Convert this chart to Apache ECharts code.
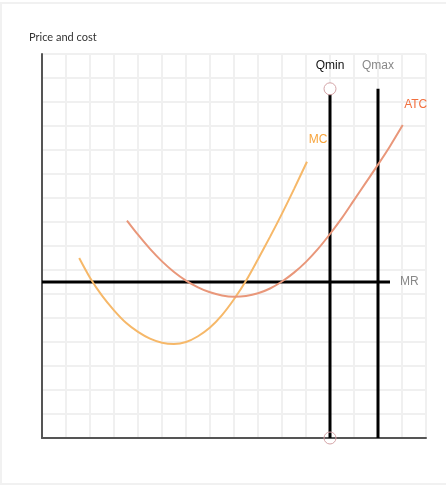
<!DOCTYPE html>
<html>
<head>
<meta charset="utf-8">
<script src="https://cdn.jsdelivr.net/npm/echarts@6/dist/echarts.min.js"></script>
<style>
  html, body { margin: 0; padding: 0; background: #fff; }
  #card { position: absolute; left: 0; top: 2px; width: 470px; height: 479px; border: 2px solid #f1f1f1; }
  #chart { position: absolute; left: 0; top: 0; width: 446px; height: 503px; }
</style>
</head>
<body>
<div id="card"></div>
<div id="chart"></div>
<script>
// Axis ranges (grid units)
const xRange = [0, 16];
const yRange = [0, 16];

// Marginal cost curve (Q, price)
const mcPoints = [[1.55,7.5],[2.0,6.68],[2.5,5.93],[3.0,5.32],[3.5,4.8],[4.0,4.42],[4.5,4.14],[5.0,3.97],[5.5,3.92],[6.0,4.0],[6.5,4.24],[7.0,4.6],[7.5,5.12],[8.0,5.78],[8.5,6.55],[9.0,7.45],[9.5,8.38],[10.0,9.35],[10.5,10.37],[11.04,11.51]];
// Average total cost curve
const atcPoints = [[3.54,9.06],[4.0,8.47],[4.5,7.88],[5.0,7.36],[5.5,6.92],[6.0,6.56],[6.5,6.28],[7.0,6.07],[7.5,5.94],[8.0,5.89],[8.5,5.92],[9.0,6.03],[9.5,6.23],[10.0,6.52],[10.5,6.89],[11.0,7.34],[11.5,7.88],[12.0,8.5],[12.5,9.17],[13.0,9.91],[13.5,10.65],[14.0,11.39],[14.5,12.16],[15.03,13.04]];
// Marginal revenue (horizontal)
const mrLevel = 6.5;
const mrExtent = [0, 14.5];
// Quantity markers
const qMin = 12;
const qMax = 14;
const qTop = 14.55;
// Labels
const labelNames = { mc: 'MC', atc: 'ATC', mr: 'MR', qmin: 'Qmin', qmax: 'Qmax' };
const yAxisTitle = 'Price and cost';

const mrPoints = [[mrExtent[0], mrLevel], [mrExtent[1], mrLevel]];
const qMinPoints = [[qMin, 0], [qMin, qTop]];
const qMaxPoints = [[qMax, 0], [qMax, qTop]];

const labelFont = '"Liberation Sans", Arial, Helvetica, sans-serif';

function labelSeries(point, text, color, labelOpt) {
  return {
    type: 'scatter', symbolSize: 0, silent: true, z: 5,
    itemStyle: { opacity: 1 },
    data: [point],
    label: Object.assign({ show: true, formatter: text, color: color, opacity: 1, fontSize: 12, fontFamily: labelFont }, labelOpt)
  };
}

const chart = echarts.init(document.getElementById('chart'), null, { renderer: 'canvas' });
chart.setOption({
  animation: false,
  title: {
    text: yAxisTitle, left: 24, top: 27,
    textStyle: { fontFamily: 'Lato', fontSize: 11, fontWeight: 'normal', color: '#333' }
  },
  grid: { left: 42, top: 54, width: 384, height: 384, containLabel: false },
  xAxis: {
    type: 'value', min: xRange[0], max: xRange[1], interval: 1,
    axisLine: { show: true, onZero: false, lineStyle: { color: '#555', width: 2 } },
    axisTick: { show: false }, axisLabel: { show: false },
    splitLine: { show: true, lineStyle: { color: '#f0f0f0', width: 2 } }
  },
  yAxis: {
    type: 'value', min: yRange[0], max: yRange[1], interval: 1,
    axisLine: { show: true, onZero: false, lineStyle: { color: '#555', width: 2 } },
    axisTick: { show: false }, axisLabel: { show: false },
    splitLine: { show: true, lineStyle: { color: '#f0f0f0', width: 2 } }
  },
  series: [
    { type: 'line', data: mcPoints, smooth: 0.3, showSymbol: false, z: 3,
      lineStyle: { color: '#f6b869', width: 2 } },
    { type: 'line', data: atcPoints, smooth: 0.3, showSymbol: false, z: 3,
      lineStyle: { color: '#e9977a', width: 2 } },
    { type: 'line', data: mrPoints, showSymbol: false, z: 2,
      lineStyle: { color: '#000', width: 3 } },
    { type: 'line', data: qMinPoints, showSymbol: false, z: 2,
      lineStyle: { color: '#000', width: 3 } },
    { type: 'line', data: qMaxPoints, showSymbol: false, z: 2,
      lineStyle: { color: '#000', width: 3 } },
    { type: 'scatter', symbol: 'circle', symbolSize: 12, z: 4, silent: true,
      data: [
        { value: qMinPoints[1], itemStyle: { color: '#fff' } },
        { value: qMinPoints[0], itemStyle: { color: 'rgba(255,255,255,0)' } }
      ],
      itemStyle: { borderColor: '#d3a3a6', borderWidth: 1, opacity: 1 } },
    labelSeries(qMinPoints[1], labelNames.qmin, '#111', { position: 'inside', offset: [0, -23] }),
    labelSeries(qMaxPoints[1], labelNames.qmax, '#888', { position: 'inside', offset: [0, -23] }),
    labelSeries(mrPoints[1], labelNames.mr, '#888', { position: 'right', distance: 10 }),
    labelSeries(mcPoints[mcPoints.length - 1], labelNames.mc, '#f7a43c', { position: 'inside', offset: [11, -22] }),
    labelSeries(atcPoints[atcPoints.length - 1], labelNames.atc, '#f2703f', { position: 'inside', offset: [13, -20] })
  ]
});
</script>
</body>
</html>
